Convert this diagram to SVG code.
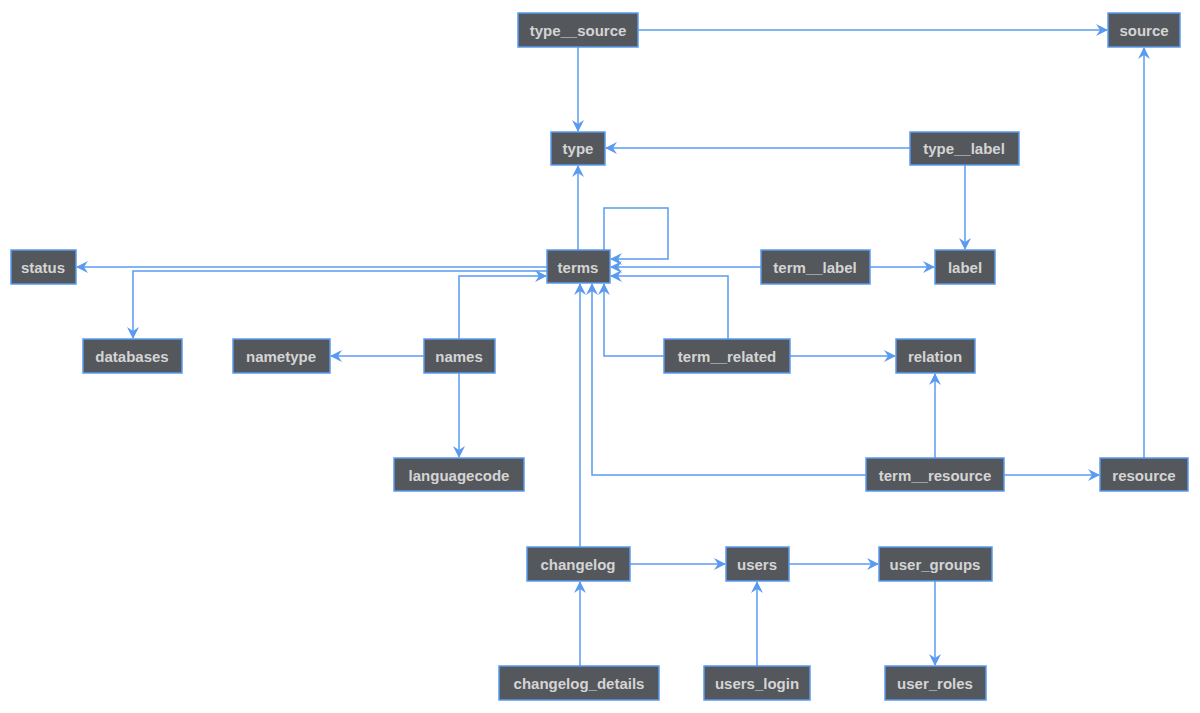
<svg xmlns="http://www.w3.org/2000/svg" width="1200" height="713" viewBox="0 0 1200 713">
<style>
.n rect{fill:#54585c;stroke:#5a9bef;stroke-width:1.5}
.n text{fill:#d4d4d4;font-family:"Liberation Sans",Arial,sans-serif;font-weight:bold;font-size:15px;text-anchor:middle;dominant-baseline:central}
.e path{fill:none;stroke:#5a9bef;stroke-width:1.5;marker-end:url(#a)}
</style>
<defs><marker id="a" viewBox="0 0 12 12" refX="11" refY="6" markerWidth="12" markerHeight="12" markerUnits="userSpaceOnUse" orient="auto"><path d="M0,0 L12,6 L0,12 L4,6 Z" fill="#5a9bef"/></marker></defs>
<rect width="1200" height="713" fill="#fff"/>
<g class="e">
<path d="M638,30 H1107"/>
<path d="M578,47 V131"/>
<path d="M910,148 H606"/>
<path d="M965,165 V249"/>
<path d="M578,250 V166"/>
<path d="M604,250 V208 H668 V259 H611"/>
<path d="M547,267 H77"/>
<path d="M547,271 H133 V338"/>
<path d="M459,339 V276 H546"/>
<path d="M424,356 H331"/>
<path d="M459,373 V457"/>
<path d="M761,267 H611"/>
<path d="M870,267 H934"/>
<path d="M728,339 V276 H611"/>
<path d="M664,356 H604 V284"/>
<path d="M790,356 H895"/>
<path d="M935,458 V374"/>
<path d="M1004,475 H1099"/>
<path d="M866,475 H592 V284"/>
<path d="M1144,458 V48"/>
<path d="M580,547 V284"/>
<path d="M630,564 H725"/>
<path d="M789,564 H878"/>
<path d="M935,581 V665"/>
<path d="M580,666 V582"/>
<path d="M757,666 V582"/>
</g>
<g id="type__source" class="n"><rect x="518" y="13" width="120" height="34"/><text x="578" y="30">type__source</text></g>
<g id="source" class="n"><rect x="1108" y="13" width="72" height="34"/><text x="1144" y="30">source</text></g>
<g id="type" class="n"><rect x="551" y="132" width="54" height="33"/><text x="578" y="148">type</text></g>
<g id="type__label" class="n"><rect x="910" y="132" width="109" height="33"/><text x="964" y="148">type__label</text></g>
<g id="status" class="n"><rect x="11" y="250" width="65" height="34"/><text x="43" y="267">status</text></g>
<g id="terms" class="n"><rect x="547" y="250" width="63" height="33"/><text x="578" y="267">terms</text></g>
<g id="term__label" class="n"><rect x="761" y="250" width="109" height="34"/><text x="815" y="267">term__label</text></g>
<g id="label" class="n"><rect x="935" y="250" width="60" height="34"/><text x="965" y="267">label</text></g>
<g id="databases" class="n"><rect x="83" y="339" width="99" height="34"/><text x="132" y="356">databases</text></g>
<g id="nametype" class="n"><rect x="233" y="339" width="97" height="34"/><text x="281" y="356">nametype</text></g>
<g id="names" class="n"><rect x="424" y="339" width="71" height="34"/><text x="459" y="356">names</text></g>
<g id="term__related" class="n"><rect x="664" y="339" width="126" height="34"/><text x="727" y="356">term__related</text></g>
<g id="relation" class="n"><rect x="896" y="339" width="79" height="34"/><text x="935" y="356">relation</text></g>
<g id="languagecode" class="n"><rect x="394" y="458" width="130" height="33"/><text x="459" y="475">languagecode</text></g>
<g id="term__resource" class="n"><rect x="866" y="458" width="138" height="33"/><text x="935" y="475">term__resource</text></g>
<g id="resource" class="n"><rect x="1100" y="458" width="88" height="33"/><text x="1144" y="475">resource</text></g>
<g id="changelog" class="n"><rect x="527" y="547" width="103" height="34"/><text x="578" y="564">changelog</text></g>
<g id="users" class="n"><rect x="726" y="547" width="63" height="34"/><text x="757" y="564">users</text></g>
<g id="user_groups" class="n"><rect x="879" y="547" width="113" height="34"/><text x="935" y="564">user_groups</text></g>
<g id="changelog_details" class="n"><rect x="499" y="666" width="160" height="34"/><text x="579" y="683">changelog_details</text></g>
<g id="users_login" class="n"><rect x="704" y="666" width="106" height="34"/><text x="757" y="683">users_login</text></g>
<g id="user_roles" class="n"><rect x="885" y="666" width="101" height="34"/><text x="935" y="683">user_roles</text></g>
</svg>
